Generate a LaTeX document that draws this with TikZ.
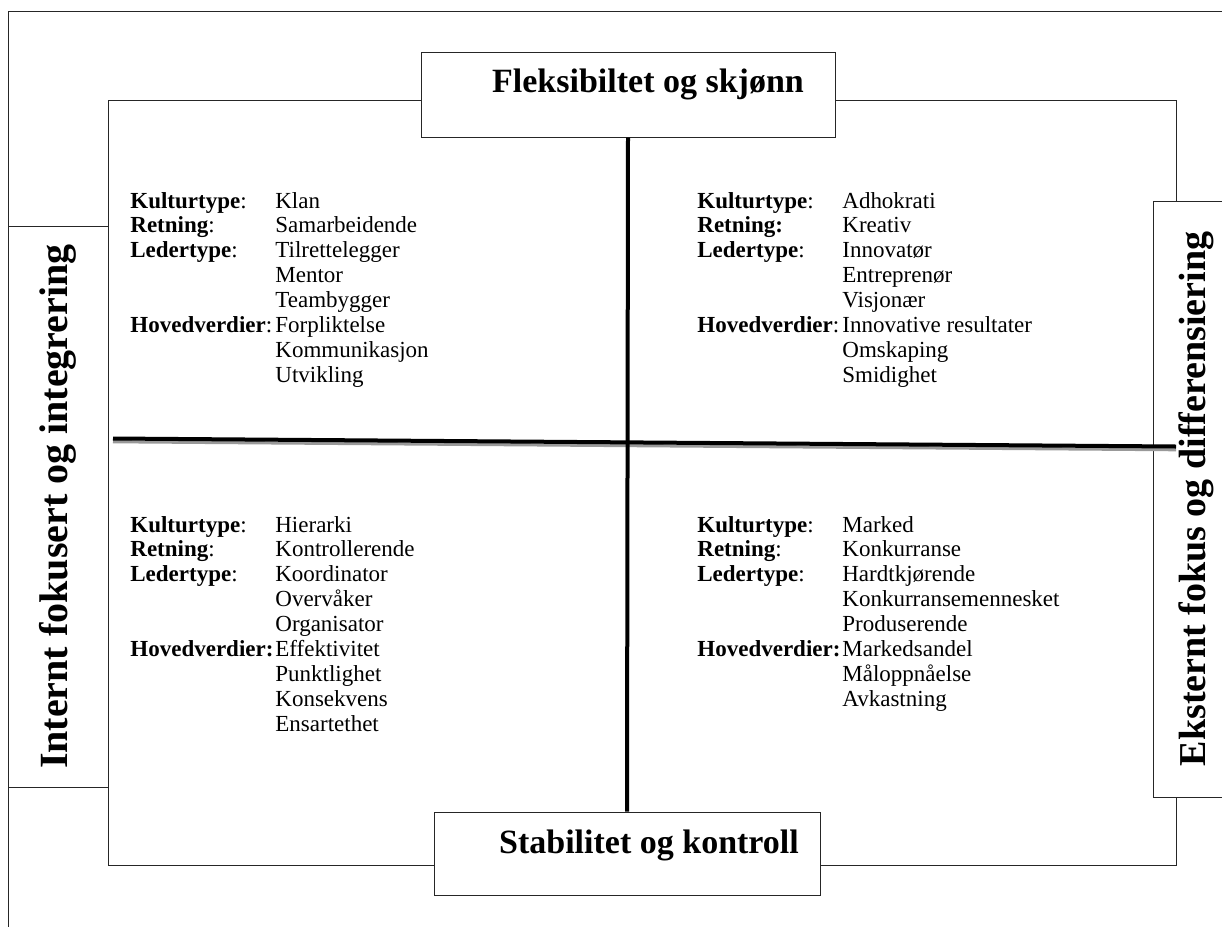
\documentclass[tikz,border=0pt]{standalone}
\usepackage{fontspec}
\setmainfont{Liberation Serif}

\begin{document}
\begin{tikzpicture}[x=0.5pt, y=-0.5pt,
                frame/.style={draw=black!85, line width=0.5pt},
                headbox/.style={draw=black!85, line width=0.5pt, fill=white, rectangle, inner sep=0pt},
                headtext/.style={anchor=base, inner sep=0pt, font=\fontsize{17}{20}\selectfont\bfseries},
                sidebox/.style={draw=black!85, line width=0.5pt, fill=white, rectangle, rotate=90, inner sep=0pt, font=\fontsize{20}{24}\selectfont\bfseries},
                quad/.style={anchor=base west, inner sep=0pt, font=\fontsize{11.5}{12.45}\selectfont},
                axis/.style={line width=2pt, black},
                shade/.style={line width=1.6pt, black!40}]

                \useasboundingbox (0,0) rectangle (1222,927);
                \clip (0,0) rectangle (1222,927);

                \draw[frame] (1222,11) -- (8,11) -- (8,927);
                \draw[frame] (108,100) rectangle (1176,865);

                \node[headbox, minimum width=207pt, minimum height=42.5pt] (flexbox) at (628,94.5) {};
                \node[headtext] (flextxt) at (648,92) {Fleksibiltet og skjønn};

                \node[headbox, minimum width=193pt, minimum height=41.5pt] (stabbox) at (627,853.5) {};
                \node[headtext] (stabtxt) at (649,853) {Stabilitet og kontroll};

                \node[sidebox, minimum width=280.5pt, minimum height=50pt] (intern) at (58,506.5) {Internt fokusert og integrering};
                \node[sidebox, minimum width=298pt, minimum height=43.5pt, font=\fontsize{19}{23}\selectfont\bfseries] (ekstern) at (1196.5,499) {Eksternt fokus og differensiering};

                \coordinate (west) at (113,438.5);
                \coordinate (east) at (1176,446.5);
                \draw[shade] ([yshift=-1.6pt]west) -- ([yshift=-1.6pt]east);
                \draw[axis] (west) -- (east);
                \draw[axis] (flexbox.south) -- (stabbox.north);

                \node[quad] (klan) at (130,208) {\begin{tabular}[t]{@{}p{72.5pt}@{}l@{}}
                    \textbf{Kulturtype}: & Klan\\
                    \textbf{Retning}: & Samarbeidende\\
                    \textbf{Ledertype}: & Tilrettelegger\\
                    & Mentor\\
                    & Teambygger\\
                    \textbf{Hovedverdier}: & Forpliktelse\\
                    & Kommunikasjon\\
                    & Utvikling
                \end{tabular}};

                \node[quad] (adhokrati) at (697,208) {\begin{tabular}[t]{@{}p{72.5pt}@{}l@{}}
                    \textbf{Kulturtype}: & Adhokrati\\
                    \textbf{Retning:} & Kreativ\\
                    \textbf{Ledertype}: & Innovatør\\
                    & Entreprenør\\
                    & Visjonær\\
                    \textbf{Hovedverdier}: & Innovative resultater\\
                    & Omskaping\\
                    & Smidighet
                \end{tabular}};

                \node[quad] (hierarki) at (130,532) {\begin{tabular}[t]{@{}p{72.5pt}@{}l@{}}
                    \textbf{Kulturtype}: & Hierarki\\
                    \textbf{Retning}: & Kontrollerende\\
                    \textbf{Ledertype}: & Koordinator\\
                    & Overvåker\\
                    & Organisator\\
                    \textbf{Hovedverdier:} & Effektivitet\\
                    & Punktlighet\\
                    & Konsekvens\\
                    & Ensartethet
                \end{tabular}};

                \node[quad] (marked) at (697,532) {\begin{tabular}[t]{@{}p{72.5pt}@{}l@{}}
                    \textbf{Kulturtype}: & Marked\\
                    \textbf{Retning}: & Konkurranse\\
                    \textbf{Ledertype}: & Hardtkjørende\\
                    & Konkurransemennesket\\
                    & Produserende\\
                    \textbf{Hovedverdier:} & Markedsandel\\
                    & Måloppnåelse\\
                    & Avkastning
                \end{tabular}};
            \end{tikzpicture}
\end{document}
